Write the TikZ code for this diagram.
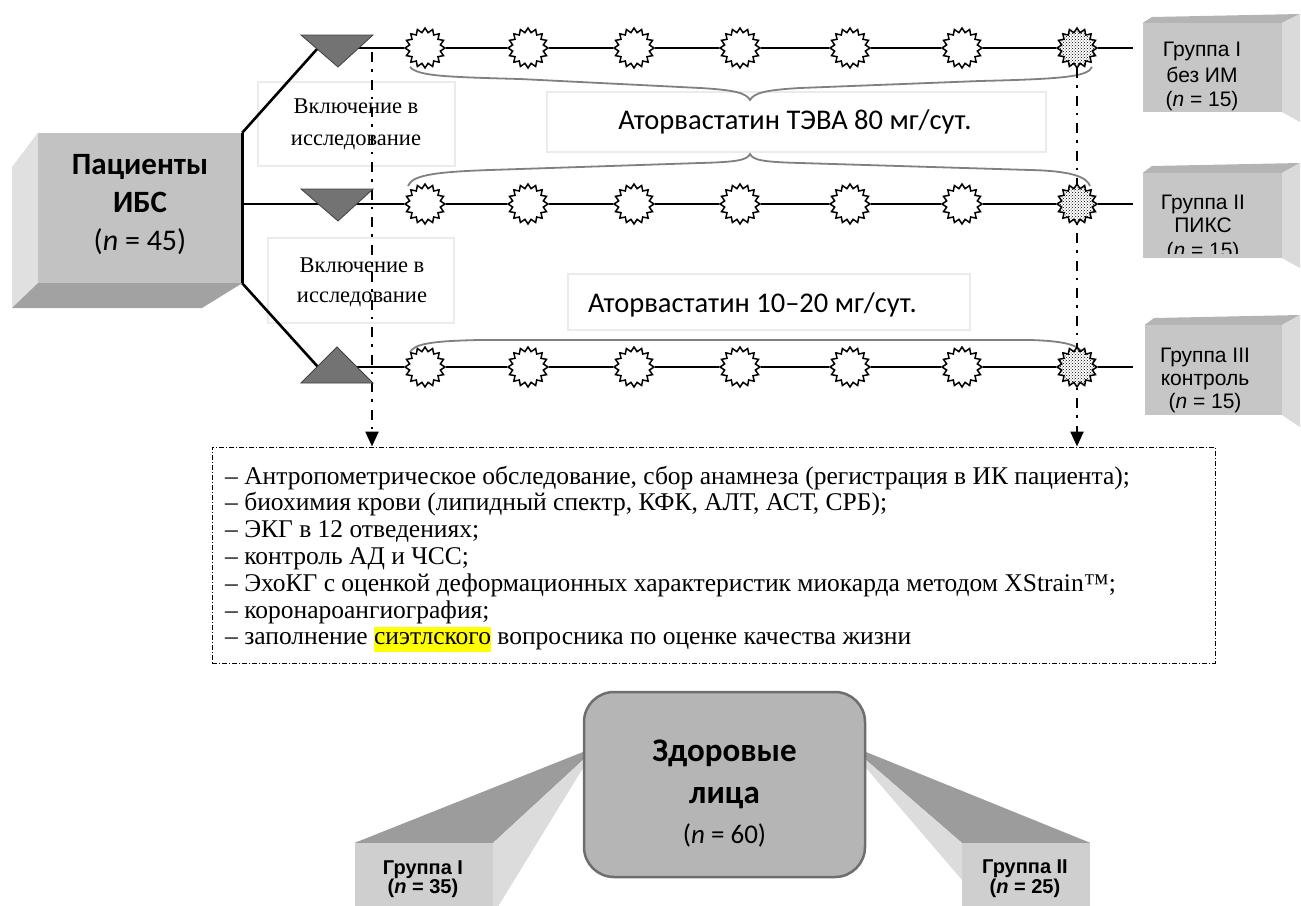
\documentclass[tikz,border=0pt]{standalone}
\usepackage{fontspec}
\newfontfamily\fcal{Carlito}
\newfontfamily\farial{Liberation Sans}
\newfontfamily\ftnr{Liberation Serif}
\usetikzlibrary{shapes.geometric,patterns,arrows.meta}
\newcommand{\myfs}[1]{\fontsize{#1}{#1}\selectfont}
\definecolor{frontg}{HTML}{C2C2C2}
\definecolor{bevlight}{HTML}{E0E0E0}
\definecolor{bevdark}{HTML}{A2A2A2}
\definecolor{gfront}{HTML}{C6C6C6}
\definecolor{gtop}{HTML}{B4B4B4}
\definecolor{gside}{HTML}{DADADA}
\definecolor{zfill}{HTML}{B5B5B5}
\definecolor{zdraw}{HTML}{6E6E6E}
\definecolor{wdark}{HTML}{9C9C9C}
\definecolor{wlight}{HTML}{DCDCDC}
\definecolor{wfront}{HTML}{CFCFCF}
\definecolor{hl}{HTML}{FFFF00}
\begin{document}
\begin{tikzpicture}[x=1pt,y=-1pt,
  blk/.style={line width=2.6pt, black},
  burst/.style={shape=star, star points=16, star point ratio=1.28, minimum size=40pt, inner sep=0pt, draw=black, line width=1.5pt, fill=white},
  burstdot/.style={burst, preaction={fill=white}, pattern=crosshatch dots, pattern color=black},
  trifill/.style={fill=black!55, draw=black!75, line width=0.8pt},
  bracel/.style={draw=black!50, line width=1.8pt},
  lblbox/.style={draw=black!8, line width=1.5pt},
  vdash/.style={line width=2.4pt, dash pattern=on 10pt off 7pt on 2.5pt off 8pt, -{Triangle[length=15pt,width=13pt]}},
  boxdash/.style={draw=black, line width=1pt, dash pattern=on 5pt off 2pt on 1pt off 2pt},
  txt/.style={inner sep=0pt, anchor=base},
  facebox/.style={inner sep=0pt, draw=none},
]
\useasboundingbox (0,0) rectangle (1301,905);

% ---------- label boxes (behind lines)
\node[lblbox, minimum width=197pt, minimum height=84pt, inner sep=0pt] (inc1) at (356.5,124) {};
\node[lblbox, minimum width=186pt, minimum height=85pt, inner sep=0pt] (inc2) at (361,280.5) {};
\node[lblbox, minimum width=499pt, minimum height=60pt, inner sep=0pt] (atv1) at (796.5,122) {};
\node[lblbox, minimum width=402pt, minimum height=56pt, inner sep=0pt] (atv2) at (769,302) {};

\node[txt, font=\ftnr\myfs{22.5}] (inc1a) at (356,113) {Включение в};
\node[txt, font=\ftnr\myfs{22.5}] (inc1b) at (356,145) {исследование};
\node[txt, font=\ftnr\myfs{22.5}] (inc2a) at (362,272) {Включение в};
\node[txt, font=\ftnr\myfs{22.5}] (inc2b) at (362,302) {исследование};
\node[txt, font=\fcal\myfs{28.5}] (atv1t) at (795,129) {Аторвастатин ТЭВА 80 мг/сут.};
\node[txt, anchor=base west, font=\fcal\myfs{28.5}] (atv2t) at (588,312) {Аторвастатин 10–20 мг/сут.};

% ---------- braces
\draw[bracel] (410,67) .. controls (418,76) and (445,77) .. (520,79) -- (700,88) .. controls (735,90) and (746,93) .. (750,100)
  .. controls (754,93) and (765,90) .. (800,88) -- (980,81) .. controls (1060,79) and (1088,77) .. (1092,67);
\draw[bracel] (408,186) .. controls (412,176) and (430,172) .. (490,170) -- (700,163) .. controls (738,162) and (747,160) .. (750,154)
  .. controls (753,160) and (762,162) .. (800,163) -- (1030,170) .. controls (1075,171) and (1087,178) .. (1090,186);
\draw[bracel] (410,352) .. controls (415,344) and (430,341) .. (480,340) -- (1030,340) .. controls (1065,341) and (1078,345) .. (1083,353);

% ---------- patients box
\node[facebox, fill=frontg, minimum width=204pt, minimum height=150pt] (pat) at (140,208) {};
\fill[bevlight] (pat.north west) -- (12,167) -- (12,308) -- (pat.south west) -- cycle;
\fill[bevdark] (pat.south west) -- (pat.south east) -- (202,308) -- (12,308) -- cycle;
\node[txt, font=\fcal\bfseries\myfs{31}] (pat1) at (140,174) {Пациенты};
\node[txt, font=\fcal\bfseries\myfs{31}] (pat2) at (140,212) {ИБС};
\node[txt, font=\fcal\myfs{30}] (pat3) at (140,250) {(\textit{n} = 45)};

% ---------- examination box and vertical dash-dot arrows
\node[boxdash, minimum width=1003pt, minimum height=216pt, inner sep=0pt] (exam) at (713.5,555) {};
\coordinate (v1) at (372,52);
\coordinate (v2) at (1077,68);
\draw[vdash] (v1) -- (v1 |- exam.north);
\draw[vdash] (v2) -- (v2 |- exam.north);

% ---------- stars
\foreach \x [count=\i] in {425,528,634,740,850,962} {
  \node[burst] (a\i) at (\x,48) {};
  \node[burst] (b\i) at (\x,204) {};
  \node[burst] (c\i) at (\x,367) {};
}
\node[burstdot] (a7) at (1077,48) {};
\node[burstdot] (b7) at (1077,204) {};
\node[burstdot] (c7) at (1077,367) {};

% ---------- connectors
\coordinate (j1) at (318,48);
\coordinate (j2) at (242,204);
\coordinate (j3) at (318,367);
\coordinate (e1) at (1133,48);
\coordinate (e2) at (1133,204);
\coordinate (e3) at (1133,367);
\draw[blk] (pat.north east) -- (pat.south east);
\draw[blk] (pat.north east) -- (j1);
\draw[blk] (pat.south east) -- (j3);
\draw[blk] (j1) -- (a1);
\draw[blk] (j2) -- (b1);
\draw[blk] (j3) -- (c1);
\foreach \i [evaluate=\i as \j using int(\i+1)] in {1,...,6} {
  \draw[blk] (a\i) -- (a\j);
  \draw[blk] (b\i) -- (b\j);
  \draw[blk] (c\i) -- (c\j);
}
\draw[blk] (a7) -- (e1);
\draw[blk] (b7) -- (e2);
\draw[blk] (c7) -- (e3);

% ---------- triangles
\coordinate (t1l) at (301,35); \coordinate (t1r) at (373,35); \coordinate (t1b) at (338,67);
\coordinate (t2l) at (301,189); \coordinate (t2r) at (373,189); \coordinate (t2b) at (338,221);
\coordinate (t3l) at (301,383); \coordinate (t3r) at (373,383); \coordinate (t3b) at (337,347);
\draw[trifill] (t1l) -- (t1r) -- (t1b) -- cycle;
\draw[trifill] (t2l) -- (t2r) -- (t2b) -- cycle;
\draw[trifill] (t3l) -- (t3r) -- (t3b) -- cycle;

\begin{scope}[every node/.style={txt, anchor=base west, font=\ftnr\myfs{25.5}}]
\node (l1) at (225,484) {– Антропометрическое обследование, сбор анамнеза (регистрация в ИК пациента);};
\node (l2) at (225,510.8) {– биохимия крови (липидный спектр, КФК, АЛТ, АСТ, СРБ);};
\node (l3) at (225,537.6) {– ЭКГ в 12 отведениях;};
\node (l4) at (225,564.4) {– контроль АД и ЧСС;};
\node (l5) at (225,591.2) {– ЭхоКГ с оценкой деформационных характеристик миокарда методом XStrain™;};
\node (l6) at (225,618) {– коронароангиография;};
\node (l7) at (225,644.8) {– заполнение {\setlength{\fboxsep}{0pt}\colorbox{hl}{\strut сиэтлского}} вопросника по оценке качества жизни};
\end{scope}

% ---------- right group boxes
\node[facebox, fill=gfront, minimum width=139pt, minimum height=89pt] (g1) at (1212.5,67.5) {};
\fill[gtop] (g1.north west) -- (1152,17) -- (1300,14) -- (g1.north east) -- cycle;
\fill[gside] (g1.north east) -- (1300,14) -- (1300,122) -- (g1.south east) -- cycle;
\node[facebox, fill=gfront, minimum width=139pt, minimum height=85pt] (g2) at (1212.5,215.5) {};
\fill[gtop] (g2.north west) -- (1152,166) -- (1300,163) -- (g2.north east) -- cycle;
\fill[gside] (g2.north east) -- (1300,163) -- (1300,268) -- (g2.south east) -- cycle;
\node[facebox, fill=gfront, minimum width=137pt, minimum height=90pt] (g3) at (1213.5,370) {};
\fill[gtop] (g3.north west) -- (1154,318) -- (1300,315) -- (g3.north east) -- cycle;
\fill[gside] (g3.north east) -- (1300,315) -- (1300,427) -- (g3.south east) -- cycle;

\begin{scope}[every node/.style={txt, font=\farial\myfs{21}}]
\node (g1a) at (1202,56) {Группа I};
\node (g1b) at (1202,82) {без ИМ};
\node (g1c) at (1202,106) {(\textit{n} = 15)};
\node (g2a) at (1203,209) {Группа II};
\node (g2b) at (1203,232) {ПИКС};
\begin{scope}
\clip (1143,236) rectangle (1282,253);
\node (g2c) at (1203,257) {(\textit{n} = 15)};
\end{scope}
\node (g3a) at (1205,362) {Группа III};
\node (g3b) at (1205,385) {контроль};
\node (g3c) at (1205,408) {(\textit{n} = 15)};
\end{scope}

% ---------- healthy persons
\node[facebox, fill=wfront, minimum width=138pt, minimum height=67pt] (h1) at (424,876.5) {};
\fill[wdark] (h1.north west) -- (583,752) -- (583,760) -- (h1.north east) -- cycle;
\fill[wlight] (h1.north east) -- (583,760) -- (583,768) -- (496,910) -- (h1.south east) -- cycle;
\node[facebox, fill=wfront, minimum width=128pt, minimum height=67pt] (h2) at (1026,876.5) {};
\fill[wdark] (h2.north east) -- (866,752) -- (866,760) -- (h2.north west) -- cycle;
\fill[wlight] (h2.north west) -- (866,760) -- (866,768) -- (962,880) -- cycle;

\node[draw=zdraw, line width=2.5pt, fill=zfill, rounded corners=30pt, minimum width=281pt, minimum height=185pt, inner sep=0pt] (zd) at (724.5,784.5) {};
\node[txt, font=\fcal\bfseries\myfs{33}] (zd1) at (724.5,761) {Здоровые};
\node[txt, font=\fcal\bfseries\myfs{33}] (zd2) at (724.5,803) {лица};
\node[txt, font=\fcal\myfs{27}] (zd3) at (724.5,843) {(\textit{n} = 60)};

\node[txt, font=\farial\bfseries\myfs{20}] (h1a) at (423,874) {Группа I};
\node[txt, font=\farial\bfseries\myfs{20}] (h1b) at (423,893) {(\textit{n} = 35)};
\node[txt, font=\farial\bfseries\myfs{20}] (h2a) at (1025,873) {Группа II};
\node[txt, font=\farial\bfseries\myfs{20}] (h2b) at (1025,893) {(\textit{n} = 25)};
\end{tikzpicture}
\end{document}
